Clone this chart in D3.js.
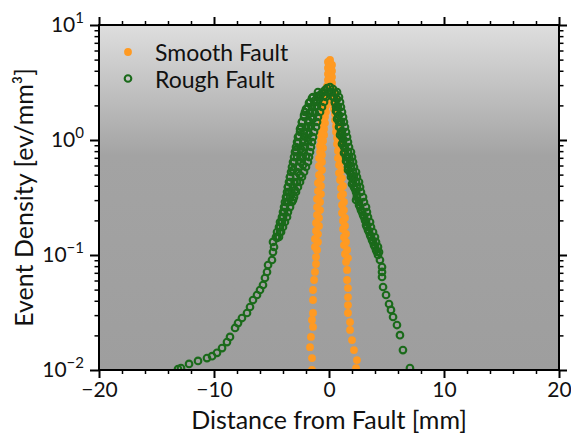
<!DOCTYPE html>
<html><head><meta charset="utf-8">
<script src="https://cdn.jsdelivr.net/npm/d3@7"></script>
<style>body{margin:0;background:#fff}svg{display:block}text{font-family:Lato,"DejaVu Sans",sans-serif;fill:#111}</style>
</head><body><svg id="c" width="571" height="438"></svg>
<script>
// ---- data (distance in mm, event density in ev/mm^3) ----
const seriesNames = ["Smooth Fault", "Rough Fault"];
const xMajorTicks = [-20, -10, 0, 10, 20];
const yMajorTicks = [0.01, 0.1, 1, 10];
const yTickExponents = ["−2", "−1", "0", "1"];

const smoothPoints = [
 [0.09,4.96],[0.09,4.67],[0.0,4.40],[0.17,4.14],[0.09,3.90],[0.0,3.67],[0.17,3.46],[0.09,3.26],[0.0,3.07],[0.17,2.89],
 [-0.09,2.72],[0.26,2.61],[-0.17,2.46],[0.35,2.37],[-0.17,2.23],[0.35,2.10],[-0.26,1.98],[0.43,1.86],[-0.26,1.75],[0.52,1.68],
 [-0.35,1.585],[0.52,1.49],[-0.35,1.405],[0.61,1.32],[-0.43,1.246],[0.61,1.174],[-0.43,1.105],[0.70,1.041],[-0.52,0.980],[0.70,0.923],
 [-0.52,0.852],[0.78,0.802],[-0.61,0.741],[0.78,0.697],[-0.61,0.644],[0.87,0.606],[-0.61,0.548],[0.87,0.516],[-0.70,0.467],[0.96,0.449],
 [-0.70,0.398],[1.04,0.382],[-0.70,0.339],[1.04,0.326],[-0.78,0.289],[1.13,0.272],[-0.78,0.246],[1.13,0.232],[-0.87,0.210],[1.22,0.1975],
 [-0.87,0.179],[1.22,0.168],[-0.96,0.152],[1.30,0.143],[-0.96,0.130],[1.30,0.122],[-1.04,0.1105],[1.39,0.102],[-1.13,0.096],[1.48,0.087],
 [-1.13,0.0835],[1.57,0.0741],[-1.22,0.0712],[1.57,0.0606],[-1.30,0.0606],[1.65,0.0516],[-1.39,0.0496],[1.65,0.0431],[-1.39,0.0406],[1.65,0.0367],
 [-1.39,0.0313],[1.65,0.0313],[-1.48,0.0272],[1.83,0.0261],[-1.39,0.0237],[1.83,0.0223],[-1.57,0.0194],[2.0,0.0182],[-1.65,0.0158],[2.17,0.0149],
 [-1.48,0.0127],[2.43,0.0122],[-1.48,0.0100],[2.35,0.0104],
 [-0.09,4.768],[0.26,4.489],[-0.09,4.228],[0.26,3.981],[-0.09,3.749],[0.26,3.530],[-0.09,3.325],[0.26,3.131],[-0.17,2.949],[0.35,2.777],
 [-0.35,2.615],[-0.35,2.318],[-0.43,2.056],[-0.52,1.824],[-0.52,1.617],[-0.61,1.434],[-0.61,1.272],[-0.70,1.128],[-0.70,1.0],[-0.78,0.887],
 [-0.78,0.786],[-0.87,0.697],[-0.87,0.594],[-0.87,0.496],[-0.96,0.423],[-0.96,0.360],[-1.04,0.307],[-1.04,0.261],[-1.04,0.223],[-1.13,0.1898],
 [-1.13,0.1618],[-1.22,0.1378],[-1.22,0.1175],
 [0.52,2.512],[0.61,2.227],[0.70,1.975],[0.70,1.752],[0.78,1.553],[0.78,1.377],[0.87,1.222],[0.87,1.083],[0.96,0.961],[0.96,0.852],
 [1.04,0.756],[1.04,0.644],[1.13,0.548],[1.13,0.467],[1.22,0.398],[1.22,0.339],[1.30,0.289],[1.30,0.246],[1.39,0.210],[1.39,0.1788],
 [1.48,0.1523],[1.48,0.1298],[1.57,0.1106],[1.65,0.0941]
];

const roughPoints = [
 [-13.13,0.0102],[-12.87,0.0104],[-12.17,0.0113],[-11.39,0.0120],[-10.61,0.0127],[-10.17,0.0132],[-9.74,0.0141],[-9.30,0.0155],[-8.87,0.0175],[-8.61,0.0194],
 [-8.17,0.0232],[-7.91,0.0256],[-7.57,0.0283],[-7.13,0.0313],[-6.87,0.0353],[-6.61,0.0406],[-6.26,0.0449],[-6.0,0.0496],[-5.74,0.0548],[-5.57,0.0631],
 [-5.39,0.0712],[-5.30,0.0818],[-4.96,0.0905],[-4.87,0.106],[-4.78,0.1174],[-4.87,0.130],[-4.52,0.1406],[-4.26,0.1585],[-4.26,0.175],[-4.09,0.1936],
 [-4.0,0.214],[-3.91,0.2365],[-3.83,0.261],[-3.65,0.289],[-3.65,0.319],[-3.48,0.353],[-3.57,0.390],[-3.13,0.301],[-2.96,0.367],[-3.39,0.431],
 [-2.78,0.431],[-3.39,0.477],[-2.52,0.496],[-3.13,0.548],[-2.61,0.582],[-2.26,0.606],[-3.04,0.644],[-2.78,0.711],[-2.35,0.697],[-2.0,0.726],
 [-2.87,0.819],[-2.43,0.835],[-2.09,0.869],[-2.70,0.942],[-2.26,1.0],[-1.83,0.980],[-2.61,1.083],[-2.17,1.151],[-1.74,1.128],[-2.52,1.246],
 [-2.0,1.297],[-1.57,1.32],[-2.35,1.435],[-1.83,1.49],[-1.39,1.523],[-2.17,1.65],[-1.65,1.718],[-1.22,1.718],[-2.0,1.86],[-1.48,1.936],
 [-1.04,1.976],[-1.74,2.10],[-1.30,2.18],[-0.87,2.27],[-1.48,2.32],[-1.04,2.41],[-0.61,2.56],[-0.78,2.46],[-0.35,2.72],[-0.17,2.83],
 [0.09,2.89],[-0.43,2.41],[-0.09,2.61],
 [0.35,2.77],[0.52,2.56],[0.35,2.37],[0.70,2.27],[0.52,2.10],[0.78,1.936],[0.61,1.79],[0.87,1.65],[0.70,1.523],[1.04,1.435],
 [0.87,1.297],[1.13,1.197],[0.96,1.105],[1.22,1.02],[1.13,0.923],[1.39,0.852],[1.30,0.771],[1.57,0.711],[1.48,0.657],[1.74,0.606],
 [1.65,0.548],[1.91,0.506],[2.09,0.458],[2.0,0.414],[2.26,0.375],[2.43,0.332],[2.35,0.301],[2.61,0.272],[2.78,0.246],[2.96,0.223],
 [3.13,0.201],[3.22,0.182],[3.39,0.165],[3.57,0.149],[3.74,0.135],[3.91,0.122],[4.09,0.1105],[4.26,0.100],[4.43,0.0905],[4.61,0.0787],
 [4.61,0.0712],[4.61,0.0644],[4.70,0.0527],[4.96,0.0449],[5.22,0.0375],[5.39,0.0333],[5.57,0.0289],[5.91,0.0246],[6.17,0.0201],[6.43,0.0149],
 [7.04,0.0104],
 // dense part of the rough-fault peak (left flank)
 [-0.96,2.615],[-0.52,2.615],[-0.09,2.615],[-1.39,2.365],[-0.83,2.365],[-0.26,2.365],[-1.65,2.140],[-1.04,2.140],[-0.43,2.140],
 [-1.83,1.936],[-1.22,1.936],[-0.61,1.936],[-2.09,1.752],[-1.43,1.752],[-0.78,1.752],[-2.17,1.585],[-1.57,1.585],[-0.96,1.585],
 [-2.35,1.434],[-1.70,1.434],[-1.04,1.434],[-2.43,1.297],[-1.78,1.297],[-1.13,1.297],[-2.52,1.174],[-1.91,1.174],[-1.30,1.174],
 [-2.70,1.062],[-2.04,1.062],[-1.39,1.062],[-2.78,0.961],[-2.13,0.961],[-1.48,0.961],[-2.87,0.869],[-2.22,0.869],[-1.57,0.869],
 [-2.96,0.786],[-2.30,0.786],[-1.65,0.786],[-3.04,0.711],[-2.39,0.711],[-1.74,0.711],[-3.13,0.644],[-2.48,0.644],[-1.83,0.644],
 [-3.22,0.582],[-2.61,0.582],[-2.0,0.582],[-3.30,0.527],[-2.74,0.527],[-2.17,0.527],[-3.39,0.477],[-2.87,0.477],[-2.35,0.477],
 [-3.48,0.431],[-3.0,0.431],[-2.52,0.431],[-3.57,0.390],[-3.13,0.390],[-2.70,0.390],[-3.65,0.353],[-3.26,0.353],[-2.87,0.353],
 [-3.74,0.319],[-3.39,0.319],[-3.04,0.319],[-3.83,0.289],[-3.52,0.289],[-3.22,0.289],[-3.91,0.261],[-3.39,0.261],
 [-4.0,0.236],[-3.57,0.236],[-4.09,0.214],[-3.65,0.214],[-4.26,0.1936],[-3.83,0.1936],[-4.35,0.1752],[-4.0,0.1752],
 [-4.52,0.1585],[-4.17,0.1585],[-4.61,0.1434],[-4.35,0.1434],
 // dense part of the rough-fault peak (right flank)
 [0.26,2.615],[0.70,2.615],[0.43,2.365],[0.87,2.365],[0.52,2.140],[0.96,2.140],[0.61,1.936],[1.04,1.936],[0.70,1.752],[1.13,1.752],
 [0.78,1.585],[1.22,1.585],[0.87,1.434],[1.30,1.434],[0.96,1.297],[1.39,1.297],[1.04,1.174],[1.48,1.174],[1.13,1.062],[1.57,1.062],
 [1.22,0.961],[1.65,0.961],[1.30,0.869],[1.74,0.869],[1.39,0.786],[1.65,0.786],[1.91,0.786],[1.48,0.711],[1.74,0.711],[2.0,0.711],
 [1.57,0.644],[1.83,0.644],[2.09,0.644],[1.65,0.582],[1.91,0.582],[2.17,0.582],[1.83,0.527],[2.09,0.527],[2.35,0.527],
 [1.91,0.477],[2.17,0.477],[2.43,0.477],[2.09,0.431],[2.35,0.431],[2.61,0.431],[2.17,0.390],[2.43,0.390],[2.70,0.390],
 [2.35,0.353],[2.78,0.353],[2.43,0.319],[2.96,0.319],[2.61,0.289],[3.04,0.289],[2.70,0.261],[3.22,0.261],[2.87,0.236],[3.30,0.236],
 [3.04,0.214],[3.39,0.214],[3.22,0.1936],[3.57,0.1936],[3.30,0.1752],[3.65,0.1752],[3.48,0.1585],[3.83,0.1585],[3.65,0.1434],[4.0,0.1434],
 [3.83,0.1298],[4.09,0.1298],[4.0,0.1175],[4.26,0.1175],[4.17,0.1062],[4.35,0.1062]
];

// ---- layout ----
const svg = d3.select("#c");
const L = 99, R = 559, T = 25, B = 370;
const x = d3.scaleLinear().domain([-20, 20]).range([L, R]);
const y = d3.scaleLog().domain([0.01, 10]).range([B, T]);
const colors = {smooth: "#ff9a22", rough: "#1a6a1a"};

const defs = svg.append("defs");
const grad = defs.append("linearGradient").attr("id", "bg").attr("x1", 0).attr("x2", 0).attr("y1", 0).attr("y2", 1);
grad.append("stop").attr("offset", "0").attr("stop-color", "#dedede");
grad.append("stop").attr("offset", "0.38").attr("stop-color", "#a3a3a3");
grad.append("stop").attr("offset", "1").attr("stop-color", "#9e9e9e");
defs.append("clipPath").attr("id", "clip").append("rect").attr("x", L).attr("y", T).attr("width", R - L).attr("height", B - T);

svg.append("rect").attr("x", L).attr("y", T).attr("width", R - L).attr("height", B - T).attr("fill", "url(#bg)");

const plot = svg.append("g").attr("clip-path", "url(#clip)");
plot.selectAll("circle.s").data(smoothPoints).join("circle").attr("class", "s")
  .attr("cx", d => x(d[0])).attr("cy", d => y(d[1])).attr("r", 3.9).attr("fill", colors.smooth);
plot.selectAll("circle.r").data(roughPoints).join("circle").attr("class", "r")
  .attr("cx", d => x(d[0])).attr("cy", d => y(d[1])).attr("r", 3.3)
  .attr("fill", "none").attr("stroke", colors.rough).attr("stroke-width", 2.1);

// ---- axes ----
const xMinor = d3.range(-18, 19, 2).filter(v => v % 10 !== 0);
const yMinor = [];
[0.01, 0.1, 1].forEach(b => { for (let k = 2; k <= 9; k++) yMinor.push(b * k); });
const fmtX = d => d < 0 ? "−" + Math.abs(d) : String(d);

function styleAxis(g, w) {
  g.select(".domain").remove();
  g.selectAll(".tick line").attr("stroke", "#000").attr("stroke-width", w);
}
svg.append("g").attr("transform", `translate(0,${B})`)
  .call(d3.axisBottom(x).tickValues(xMajorTicks).tickSize(8).tickPadding(4).tickFormat(fmtX))
  .call(g => styleAxis(g, 2))
  .call(g => g.selectAll("text").attr("font-size", 21).attr("fill", "#111").attr("font-family", "Lato"));
svg.append("g").attr("transform", `translate(0,${B})`)
  .call(d3.axisBottom(x).tickValues(xMinor).tickSize(4).tickFormat(""))
  .call(g => styleAxis(g, 1.5));
svg.append("g").attr("transform", `translate(0,${T})`)
  .call(d3.axisTop(x).tickValues(xMajorTicks).tickSize(8).tickFormat(""))
  .call(g => styleAxis(g, 2));
svg.append("g").attr("transform", `translate(0,${T})`)
  .call(d3.axisTop(x).tickValues(xMinor).tickSize(4).tickFormat(""))
  .call(g => styleAxis(g, 1.5));

svg.append("g").attr("transform", `translate(${L},0)`)
  .call(d3.axisLeft(y).tickValues(yMajorTicks).tickSize(9).tickFormat(""))
  .call(g => styleAxis(g, 2));
svg.append("g").attr("transform", `translate(${L},0)`)
  .call(d3.axisLeft(y).tickValues(yMinor).tickSize(4.5).tickFormat(""))
  .call(g => styleAxis(g, 1.5));
svg.append("g").attr("transform", `translate(${R},0)`)
  .call(d3.axisRight(y).tickValues(yMajorTicks).tickSize(8).tickFormat(""))
  .call(g => styleAxis(g, 2));
svg.append("g").attr("transform", `translate(${R},0)`)
  .call(d3.axisRight(y).tickValues(yMinor).tickSize(4.5).tickFormat(""))
  .call(g => styleAxis(g, 1.5));

const ylab = svg.append("g");
yMajorTicks.forEach((v, i) => {
  const t = ylab.append("text").attr("x", 84).attr("y", y(v) + 7).attr("text-anchor", "end").attr("font-size", 21);
  t.append("tspan").text("10");
  t.append("tspan").attr("dy", -9).attr("font-size", 15).text(yTickExponents[i]);
});

// spines
svg.append("rect").attr("x", L).attr("y", T).attr("width", R - L).attr("height", B - T)
  .attr("fill", "none").attr("stroke", "#000").attr("stroke-width", 2);

// axis labels
svg.append("text").attr("x", (L + R) / 2).attr("y", 429).attr("text-anchor", "middle").attr("font-size", 25)
  .text("Distance from Fault [mm]");
svg.append("text").attr("transform", `translate(33,${(T + B) / 2}) rotate(-90)`).attr("text-anchor", "middle").attr("font-size", 25)
  .text("Event Density [ev/mm³]");

// legend
const leg = svg.append("g");
seriesNames.forEach((name, i) => {
  const cy = 52 + i * 26.5;
  if (i === 0) leg.append("circle").attr("cx", 128).attr("cy", cy).attr("r", 3.9).attr("fill", colors.smooth);
  else leg.append("circle").attr("cx", 128).attr("cy", cy).attr("r", 3.3).attr("fill", "none").attr("stroke", colors.rough).attr("stroke-width", 2.1);
  leg.append("text").attr("x", 155).attr("y", cy + 9).attr("font-size", 23).text(name);
});
</script></body></html>
